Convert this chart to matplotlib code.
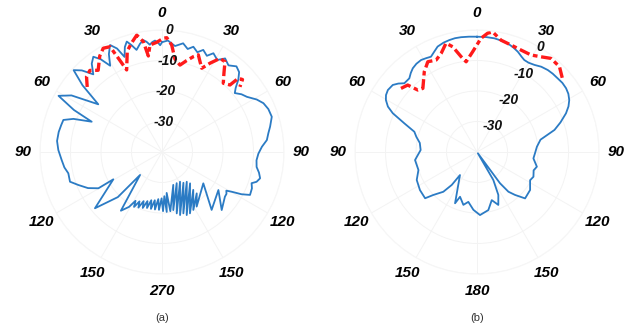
import numpy as np
import matplotlib
matplotlib.use("Agg")
import matplotlib.pyplot as plt

# angles in degrees, clockwise from top; values in dB
a_blue_theta = [0, 3, 7, 11, 14, 16.6, 19.5, 22, 25, 27.5, 31, 34, 37.5, 41, 44, 46.5, 49, 51, 54, 57,
                61, 64.3, 68, 72.2, 76.8, 80, 83.5, 87, 91, 95, 99, 102, 105, 107.5, 109.2, 112, 116, 118,
                119.7, 121, 123, 125.4, 134.2, 124, 139.4, 127.2,
                147.6, 140, 151.6, 140.5, 155.5, 138.2, 158.6, 140.3, 160.8, 145.2, 164, 148.8, 166.5, 154.8,
                169, 161.1, 172, 173.5, 175.5, 177, 179, 180.5, 183, 184.5, 187, 188.5, 191, 192.5, 195, 196.5,
                199, 200.5, 203, 204.5, 207, 208.5, 211, 215, 223.7, 224.4, 230, 240.7, 240.3, 244, 248.5,
                252.1, 257.2, 261, 265.4, 271.1, 276, 281, 285, 288, 290.5, 293.3, 295.5, 298.5, 302, 306.8,
                310, 312.8, 315.5, 318.5, 321.5, 324.2, 326.5, 329, 331.5, 334.1, 336.5, 338.5, 340.5,
                342.3, 344, 346, 348.5, 350.5, 352, 353.5, 355, 356.4, 358, 359, 360]
a_blue_db = [-4.0, -3.4, -5.0, -3.7, -5.2, -4.0, -5.3, -3.9, -5.2, -3.5, -4.8, -3.0, -4.2, -2.8, -3.6, -5.5, -8.0, -9.3, -7.8, -6.8,
             -4.5, -3.1, -2.4, -2.2, -3.6, -4.6, -5.4, -7.2, -8.4, -8.9, -8.6, -7.5, -6.7, -7.5, -8.9, -8.2, -7.9, -10.5,
             -13.7, -15.4, -14.8, -14.7, -12.7, -17.7, -15.0, -23.0,
             -18.8, -22.3, -18.4, -23.9, -17.9, -26.2, -17.8, -27.3, -18.7, -27.7, -18.5, -28.6, -19.3, -28.7,
             -20.6, -28.6, -20.4, -26.5, -20.3, -25.5, -20.6, -24.8, -21.0, -24.5, -21.0, -24.0, -21.0, -23.8, -21.0, -23.2,
             -20.6, -22.8, -20.2, -22.2, -19.8, -21.8, -19.0, -16.5, -29.6, -19.3, -11.3, -21.7, -16.0, -13.0, -10.5,
             -8.3, -8.5, -7.6, -7.0, -6.0, -5.4, -5.5, -5.8, -6.0, -9.0, -14.9, -8.0, -1.4, -5.0, -13.9,
             -6.0, -0.5, -2.5, -6.0, -3.0, -1.5, -3.5, -7.0, -3.5, -1.0, -3.0, -6.5, -3.5,
             -2.0, -3.5, -5.5, -3.8, -2.8, -3.5, -4.6, -3.8, -3.4, -4.2, -5.0, -4.0]

a_red_theta = [-49, -45, -41.5, -38, -33, -29.5, -26.3, -25, -23.3, -19, -15.8, -12.2, -9.6, -8.1, -6.4, -2.8,
               0.7, 2.4, 5.2, 7.9, 11.7, 15, 18.2, 20.5, 23, 25.4, 28.4, 31.8, 34.9, 38, 41.7, 45.4, 46, 48, 50.1]
a_red_db = [-7.5, -5.0, -4.3, -6.0, -2.5, -0.9, -1.5, -6.0, -10.7, -5.0, -3.0, -0.8, -3.3, -8.2, -4.7, -4.0,
            -2.7, -2.5, -4.8, -9.2, -10.9, -9.0, -7.1, -6.0, -8.0, -9.6, -6.9, -3.9, -3.9, -7.0, -9.8, -8.7, -5.2, -4.5, -6.7]

b_blue_theta = [0, 4.5, 8.7, 12, 15.8, 19, 22.1, 25, 27.2, 30, 33.4, 37, 40.8, 44, 47.6, 51, 54.4, 57.5, 60.6,
                63.5, 66.5, 70.5, 74.1, 79, 85, 91.3, 96.5, 103.8, 108, 113.7, 118, 125.6, 134, 138.5, 141.7,
                143.7, 147, 149.8, 153.6, 158.1, 163, 169, 177.3, 183.6, 189.9, 194.5, 200.8, 203.2, 216.5,
                217.5, 220.3, 225.5, 228.3, 236.3, 245.1, 252.9, 262.6, 272, 279, 284, 287.9, 291.5, 294.7,
                297, 299.7, 302, 304.8, 308.5, 311, 313.4, 317.4, 320, 322.5, 325.5, 328.7, 331.5, 334.2,
                337, 339.5, 343, 346.1, 349, 352.1, 356, 360]
b_blue_db = [-2.2, -2.2, -2.3, -2.6, -3.0, -3.7, -4.5, -5.5, -6.1, -6.2, -5.8, -5.0, -4.5, -4.3, -4.2, -4.0, -4.1, -4.5, -5.3,
             -6.5, -8.2, -11.0, -13.6, -18.8, -20.3, -21.0, -21.4, -19.8, -20.5, -19.8, -20.3, -18.6, -18.1, -21.2, -23.4,
             -27.3, -39.5, -29.4, -24.3, -21.3, -23.5, -20.6, -19.3, -21.0, -23.4, -22.1, -24.3, -21.7, -30.6,
             -26.4, -22.9, -19.9, -17.2, -17.5, -18.2, -19.9, -19.5, -21.5, -21.0, -19.5, -18.4, -14.4, -9.6,
             -7.2, -5.6, -4.8, -4.4, -4.7, -5.8, -7.2, -7.2, -6.2, -5.4, -4.9, -4.7, -5.0, -5.3,
             -4.2, -3.1, -2.5, -2.2, -2.0, -2.0, -2.1, -2.2]

b_red_theta = [-50.1, -46, -43.7, -40.4, -33.3, -28.6, -24, -20, -15.9, -13, -9.5, -6.9, -2.5,
               2, 5.1, 7.4, 12.1, 17.6, 23.3, 29.1, 33.9, 38.3, 44, 50]
b_red_db = [-7.5, -8.4, -11.9, -12.6, -8.5, -6.3, -7.0, -5.6, -2.9, -4.6, -8.3, -10.2, -7.1,
            -2.7, -0.9, -0.3, -2.5, -3.2, -3.6, -3.6, -2.4, -0.9, -1.1, -3.3]

tick_angles = list(range(0, 360, 30))
a_tick_labels = ['0', '30', '60', '90', '120', '150', '270', '150', '120', '90', '60', '30']
b_tick_labels = ['0', '30', '60', '90', '120', '150', '180', '150', '120', '90', '60', '30']
r_ticks = [0, -10, -20, -30]

blue = '#2b7bc4'
red = '#ff1a1a'
font = 'Liberation Sans'

fig = plt.figure(figsize=(6.42, 3.31), dpi=100)

panels = [
    ([0.0623, 0.1722, 0.3801, 0.7372], a_blue_theta, a_blue_db, a_red_theta, a_red_db, a_tick_labels, 3.5, '(a)'),
    ([0.5530, 0.1722, 0.3801, 0.7372], b_blue_theta, b_blue_db, b_red_theta, b_red_db, b_tick_labels, 31, '(b)'),
]

for rect, bt, bd, rt, rd, labels, rlab, cap in panels:
    ax = fig.add_axes(rect, projection='polar')
    ax.set_theta_zero_location('N')
    ax.set_theta_direction(-1)
    ax.set_ylim(-40, 0)
    ax.plot(np.deg2rad(bt), bd, color=blue, lw=1.3)
    ax.plot(np.deg2rad(rt), rd, color=red, lw=2.4, dashes=(3.2, 1.1, 1.4, 1.1))
    ax.set_thetagrids(tick_angles, labels, fontsize=11, fontweight='bold',
                      fontstyle='italic', family=font)
    ax.tick_params(axis='x', pad=2)
    ax.set_yticks(r_ticks)
    ax.set_yticklabels([])
    for v in r_ticks:
        ax.text(np.deg2rad(rlab), v, str(v), ha='center', va='center', fontsize=10,
                fontweight='bold', fontstyle='italic', family=font, color='#111111')
    ax.grid(color='#f3f3f3', lw=0.7)
    ax.spines['polar'].set_color('#f6f6f6')
    x0 = rect[0] + rect[2] / 2
    fig.text(x0, 0.04, cap, ha='center', va='center', fontsize=8, family=font, color='#333333')

fig.savefig('out.png', dpi=100)
